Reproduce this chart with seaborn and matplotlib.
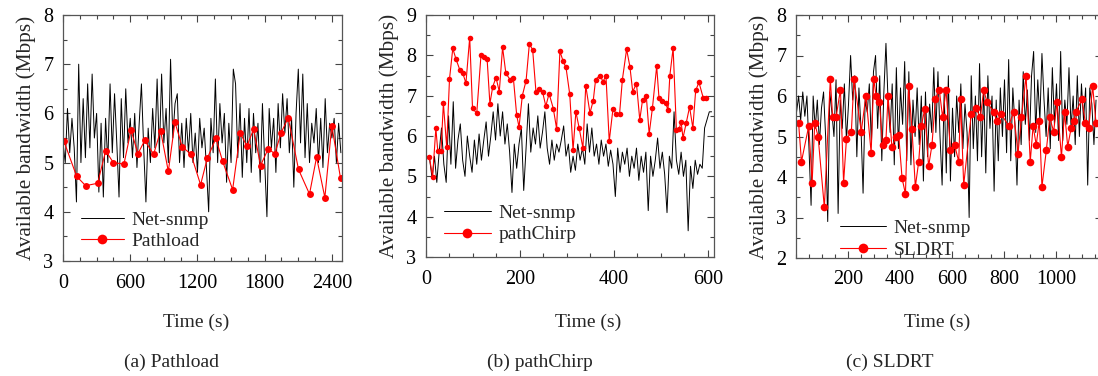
import numpy as np
import pandas as pd
import matplotlib
matplotlib.use("Agg")
import matplotlib.pyplot as plt
import seaborn as sns
from matplotlib.ticker import MultipleLocator

# ---------------- data ----------------
# (a) Pathload
a_snmp_t0, a_snmp_dt = 0, 20
a_snmp = [5.4, 5.0, 6.1, 5.2, 5.9, 5.3, 4.2, 7.0, 5.0, 6.3, 5.1, 6.6, 5.3, 6.8, 5.5, 6.0,
          4.4, 5.8, 4.3, 5.9, 5.0, 6.6, 5.2, 6.4, 5.4, 4.3, 6.3, 5.1, 6.5, 5.4, 5.9, 5.1,
          6.0, 4.9, 5.8, 6.6, 5.3, 4.2, 5.7, 5.0, 6.1, 5.3, 6.7, 5.2, 6.8, 5.4, 6.1, 5.0,
          7.1, 5.5, 6.2, 6.4, 5.0, 5.8, 4.9, 5.9, 5.2, 6.0, 5.0, 5.6, 4.8, 5.9, 5.3, 5.7,
          4.9, 4.0, 5.9, 5.2, 6.7, 5.0, 6.2, 5.4, 6.0, 4.6, 5.8, 5.0, 6.9, 6.6, 5.1, 6.2,
          4.7, 5.9, 5.0, 6.1, 4.8, 6.0, 5.2, 5.8, 4.6, 6.2, 5.0, 3.9, 6.1, 5.3, 5.9, 4.8,
          6.2, 5.3, 6.4, 5.6, 6.3, 5.2, 5.9, 4.5, 6.0, 6.9, 5.4, 6.8, 5.1, 6.2, 5.0, 5.8,
          5.4, 6.1, 5.0, 5.9, 4.9, 6.3, 5.2, 5.8, 5.5, 5.9, 5.0, 5.8, 5.2]
a_tool_t = [9, 122, 202, 309, 381, 449, 544, 607, 669, 729, 809, 871, 940, 999, 1064,
            1142, 1228, 1288, 1365, 1424, 1514, 1582, 1641, 1701, 1763, 1831, 1891,
            1947, 2010, 2102, 2200, 2263, 2337, 2399, 2477]
a_tool = [5.43, 4.72, 4.53, 4.58, 5.24, 5.00, 4.97, 5.66, 5.18, 5.45, 5.17, 5.65, 4.82,
          5.82, 5.32, 5.17, 4.55, 5.09, 5.49, 5.03, 4.45, 5.61, 5.33, 5.68, 4.94, 5.28,
          5.18, 5.61, 5.91, 4.86, 4.36, 5.11, 4.29, 5.75, 4.68]

# (b) pathChirp
b_snmp_t0, b_snmp_dt = 8, 5
b_snmp = [5.4, 4.95, 5.5, 4.85, 5.6, 6.2, 5.3, 4.85, 6.5, 5.3, 6.85, 5.2, 5.9, 6.3, 5.4,
          5.0, 6.0, 5.5, 5.1, 5.9, 5.3, 6.05, 5.4, 5.9, 6.35, 5.5, 6.0, 6.6, 5.9, 6.8,
          6.0, 6.6, 5.8, 6.3, 5.6, 4.6, 5.8, 5.2, 5.8, 6.2, 4.65, 5.7, 6.8, 5.6, 6.2,
          5.8, 6.5, 5.7, 6.1, 6.6, 5.7, 5.3, 5.9, 5.4, 5.8, 5.6, 5.9, 6.25, 5.5, 5.8,
          5.1, 5.5, 5.15, 5.8, 5.4, 5.7, 5.3, 6.3, 5.6, 6.2, 5.5, 5.8, 5.3, 5.9, 5.5,
          5.8, 5.25, 5.65, 5.3, 4.5, 5.7, 5.1, 5.6, 5.3, 5.7, 5.0, 5.5, 5.2, 5.7, 4.9,
          5.5, 5.1, 5.6, 4.15, 5.5, 5.0, 5.4, 5.95, 5.2, 5.6, 5.05, 4.1, 5.5, 5.2, 6.6,
          5.4, 5.05, 5.6, 5.0, 5.4, 3.65, 5.25, 4.7, 5.4, 5.05, 5.3, 5.2, 6.2, 6.4, 6.6,
          6.6]
b_tool_t = [7, 14, 21, 25, 32, 37, 44, 50, 57, 64, 72, 78, 85, 93, 99, 108, 117, 124,
            130, 136, 142, 149, 156, 163, 170, 179, 186, 193, 198, 205, 213, 220, 227,
            234, 241, 248, 255, 262, 271, 278, 285, 292, 298, 306, 313, 319, 326, 334,
            340, 349, 356, 361, 370, 377, 383, 390, 398, 405, 412, 418, 427, 434, 440,
            448, 455, 461, 469, 475, 482, 491, 496, 503, 510, 515, 519, 526, 533, 539,
            543, 547, 554, 561, 568, 574, 581, 590, 596]
b_tool = [5.49, 4.99, 6.19, 5.64, 5.64, 6.81, 5.73, 7.41, 8.17, 7.90, 7.64, 7.57, 7.31,
          8.44, 6.69, 6.56, 8.00, 7.95, 7.92, 6.80, 7.22, 7.45, 7.10, 8.20, 7.55, 7.40,
          7.43, 6.52, 6.22, 7.00, 7.37, 8.28, 8.14, 7.10, 7.17, 7.10, 6.74, 7.05, 6.68,
          6.18, 8.10, 7.85, 7.70, 7.03, 5.65, 6.60, 6.20, 5.70, 7.25, 6.57, 6.88, 7.40,
          7.50, 7.35, 7.50, 5.87, 6.68, 6.54, 6.55, 7.40, 8.15, 7.72, 7.10, 7.30, 6.40,
          6.90, 6.98, 6.05, 6.70, 7.73, 6.93, 6.88, 6.83, 6.64, 7.50, 8.18, 6.15, 6.18,
          6.35, 5.95, 6.33, 6.72, 6.20, 7.13, 7.33, 6.95, 6.95]

# (c) SLDRT
c_snmp_t0, c_snmp_dt = 2, 8
c_snmp = [5.6, 6.0, 5.4, 6.1, 5.5, 6.0, 4.7, 3.3, 6.0, 5.2, 5.9, 4.8, 5.7, 6.1, 5.0, 2.9,
          6.1, 5.6, 5.0, 6.4, 3.1, 5.9, 5.2, 6.3, 4.9, 5.8, 7.0, 5.9, 6.5, 4.5, 6.2, 5.2,
          3.6, 5.9, 5.6, 6.3, 4.8, 6.6, 7.0, 5.2, 6.5, 4.4, 6.1, 7.3, 5.9, 5.1, 6.3, 4.3,
          6.7, 4.7, 6.2, 5.3, 6.85, 4.4, 6.6, 4.3, 5.9, 5.0, 6.2, 4.8, 6.0, 3.9, 6.1, 4.5,
          5.8, 5.1, 6.7, 5.1, 6.6, 5.0, 3.8, 6.1, 4.1, 6.5, 3.9, 5.7, 4.5, 6.0, 5.1, 6.3,
          4.7, 5.8, 5.1, 3.0, 6.5, 4.7, 6.0, 4.4, 6.8, 4.5, 6.2, 4.1, 6.5, 5.2, 6.0, 3.65,
          5.9, 4.4, 6.2, 5.0, 6.4, 4.6, 6.9, 4.4, 6.2, 5.3, 3.8, 5.9, 4.8, 6.6, 5.3, 6.15,
          4.9, 6.5, 7.1, 5.1, 6.4, 5.4, 7.05, 5.9, 5.0, 6.2, 4.7, 6.7, 5.3, 6.3, 4.9, 7.1,
          4.9, 5.9, 5.3, 6.7, 5.2, 6.0, 4.8, 6.5, 5.0, 6.3, 5.4, 6.2, 3.8, 6.2, 5.8, 4.8,
          5.9]
c_tool_t = [10, 21, 49, 62, 72, 85, 109, 132, 141, 154, 171, 183, 194, 213, 223, 251,
            269, 289, 299, 308, 321, 333, 346, 354, 369, 385, 395, 408, 421, 433, 446,
            459, 472, 482, 495, 510, 523, 536, 551, 564, 577, 594, 610, 626, 633, 645,
            674, 692, 709, 722, 735, 760, 773, 790, 818, 837, 854, 867, 885, 901, 912,
            924, 936, 946, 963, 976, 991, 1004, 1021, 1033, 1045, 1058, 1068, 1077, 1100,
            1113, 1126, 1141, 1154]
c_tool = [5.33, 4.38, 5.26, 3.86, 5.33, 5.00, 3.25, 6.42, 5.47, 5.47, 6.16, 3.86, 4.93,
          5.12, 6.42, 5.12, 6.01, 4.60, 6.42, 6.01, 5.84, 4.79, 4.91, 6.01, 4.73, 5.00,
          5.04, 3.97, 3.58, 6.25, 5.19, 3.76, 4.38, 5.26, 5.67, 4.26, 4.79, 5.92, 6.16,
          5.47, 6.16, 4.67, 4.79, 4.38, 5.92, 3.80, 5.55, 5.70, 5.47, 6.15, 5.84, 5.61,
          5.39, 5.55, 5.26, 5.61, 4.58, 5.47, 6.49, 4.38, 5.26, 4.79, 5.39, 3.76, 4.67,
          5.47, 5.12, 5.84, 4.50, 5.61, 4.75, 5.20, 5.39, 5.61, 5.92, 5.33, 5.20, 6.25,
          5.33]

tool_names = ["Pathload", "pathChirp", "SLDRT"]
captions = ["(a) Pathload", "(b) pathChirp", "(c) SLDRT"]
x_major = [600, 200, 200]
x_minor = [150, 50, 50]
xlims = [(0, 2490), (0, 613), (0, 1177)]
ylims = [(3, 8), (3, 9), (2, 8)]

# ---------------- style ----------------
sns.set_style("ticks")
plt.rcParams["font.family"] = ["Liberation Serif", "DejaVu Serif"]

W, H = 1098, 376
fig = plt.figure(figsize=(W / 100, H / 100), dpi=100)

def px_axes(l, r, t, b):
    return fig.add_axes([l / W, 1 - b / H, (r - l) / W, (b - t) / H])

axes = [px_axes(63, 342, 15, 261), px_axes(426, 714, 15, 257), px_axes(796, 1102, 15, 258)]

snmp_sets = [(a_snmp_t0, a_snmp_dt, a_snmp), (b_snmp_t0, b_snmp_dt, b_snmp),
             (c_snmp_t0, c_snmp_dt, c_snmp)]
tool_sets = [(a_tool_t, a_tool), (b_tool_t, b_tool), (c_tool_t, c_tool)]
msizes = [5, 4, 5.5]
legend_anchor = [(0.036, 0.235), (0.035, 0.25), (0.118, 0.19)]
handle_len = [2.2, 2.4, 2.35]
cap_x = [172, 540, 890]
xlabel_x = [196, 588, 937]

for i, ax in enumerate(axes):
    t0, dt, vals = snmp_sets[i]
    df_s = pd.DataFrame({"t": t0 + dt * np.arange(len(vals)), "v": vals})
    tt, tv = tool_sets[i]
    df_t = pd.DataFrame({"t": tt, "v": tv})
    sns.lineplot(data=df_s, x="t", y="v", ax=ax, color="black", lw=0.7,
                 label="Net-snmp", estimator=None, sort=False)
    sns.lineplot(data=df_t, x="t", y="v", ax=ax, color="#ff0000", lw=0.8,
                 marker="o", markersize=msizes[i], markeredgewidth=0,
                 label=tool_names[i], estimator=None, sort=False)
    ax.set_xlim(*xlims[i])
    ax.set_ylim(*ylims[i])
    ax.xaxis.set_major_locator(MultipleLocator(x_major[i]))
    ax.xaxis.set_minor_locator(MultipleLocator(x_minor[i]))
    ax.yaxis.set_major_locator(MultipleLocator(1))
    ax.yaxis.set_minor_locator(MultipleLocator(0.5))
    ax.tick_params(which="both", direction="in", top=True, right=True,
                   colors="#444444", labelcolor="black", labelsize=14.5)
    ax.tick_params(which="major", length=5, width=0.8)
    ax.tick_params(which="minor", length=3, width=0.8)
    ax.tick_params(axis="x", which="major", pad=9)
    ax.tick_params(axis="y", which="major", pad=7)
    for s in ax.spines.values():
        s.set_color("#555555")
        s.set_linewidth(0.9)
    ax.set_xlabel("")
    ax.set_ylabel("Available bandwidth (Mbps)", fontsize=15.3, labelpad=5)
    ax.legend(loc="upper left", bbox_to_anchor=legend_anchor[i], frameon=False,
              fontsize=14, handlelength=handle_len[i], handletextpad=0.4,
              labelspacing=0.2, borderaxespad=0, markerscale=7.0 / msizes[i])
    fig.text(xlabel_x[i] / W, 1 - 322 / H, "Time (s)", ha="center", va="center",
             fontsize=14)
    fig.text(cap_x[i] / W, 1 - 362 / H, captions[i], ha="center", va="center",
             fontsize=14)

axes[2].set_xticks([200, 400, 600, 800, 1000])

fig.savefig("out.png", dpi=100)
